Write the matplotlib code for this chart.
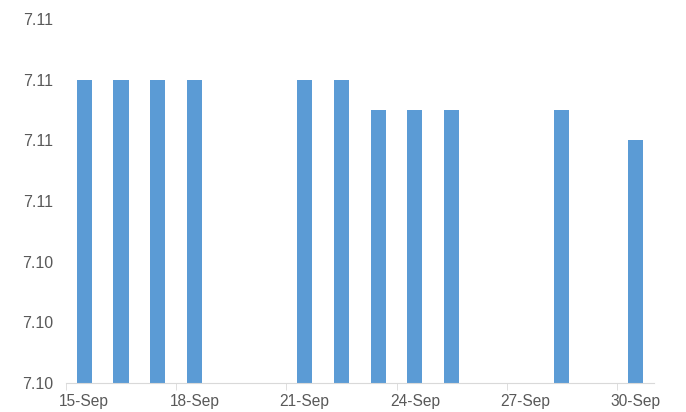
import matplotlib
matplotlib.use("Agg")
import matplotlib.pyplot as plt
import matplotlib.dates as mdates
import numpy as np
import pandas as pd

# trading days and rates
dates = ["2020-09-15", "2020-09-16", "2020-09-17", "2020-09-18",
         "2020-09-21", "2020-09-22", "2020-09-23", "2020-09-24",
         "2020-09-25", "2020-09-28", "2020-09-30"]
values = [7.110, 7.110, 7.110, 7.110,
          7.110, 7.110, 7.109, 7.109,
          7.109, 7.109, 7.108]

x = pd.to_datetime(dates)
start, end = pd.Timestamp("2020-09-15"), pd.Timestamp("2020-09-30")

plt.rcParams['font.family'] = ['Liberation Sans', 'DejaVu Sans']
fig = plt.figure(figsize=(6.86, 4.12), dpi=100)
ax = fig.add_axes([0.096, 0.0704, 0.857, 0.8836])

ax.bar(x, values, width=0.41, color="#5B9BD5", align="center")

ax.set_ylim(7.100, 7.112)
ax.set_yticks(np.arange(7.100, 7.1121, 0.002))
ax.yaxis.set_major_formatter(matplotlib.ticker.FormatStrFormatter("%.2f"))

ax.set_xlim(start - pd.Timedelta(hours=12), end + pd.Timedelta(hours=12))
labels = pd.date_range(start, end, freq="3D")
ax.set_xticks(labels)
ax.xaxis.set_major_formatter(mdates.DateFormatter("%-d-%b"))
ax.set_xticks(labels - pd.Timedelta(hours=12), minor=True)

for s in ["top", "right", "left"]:
    ax.spines[s].set_visible(False)
ax.spines["bottom"].set_color("#D9D9D9")
ax.tick_params(axis="y", length=0, pad=9, labelsize=11.5, labelcolor="#595959")
ax.tick_params(axis="x", which="major", length=0, pad=8, labelsize=11.2, labelcolor="#595959")
ax.tick_params(axis="x", which="minor", length=5, color="#D9D9D9")

fig.savefig("out.png", dpi=100)
